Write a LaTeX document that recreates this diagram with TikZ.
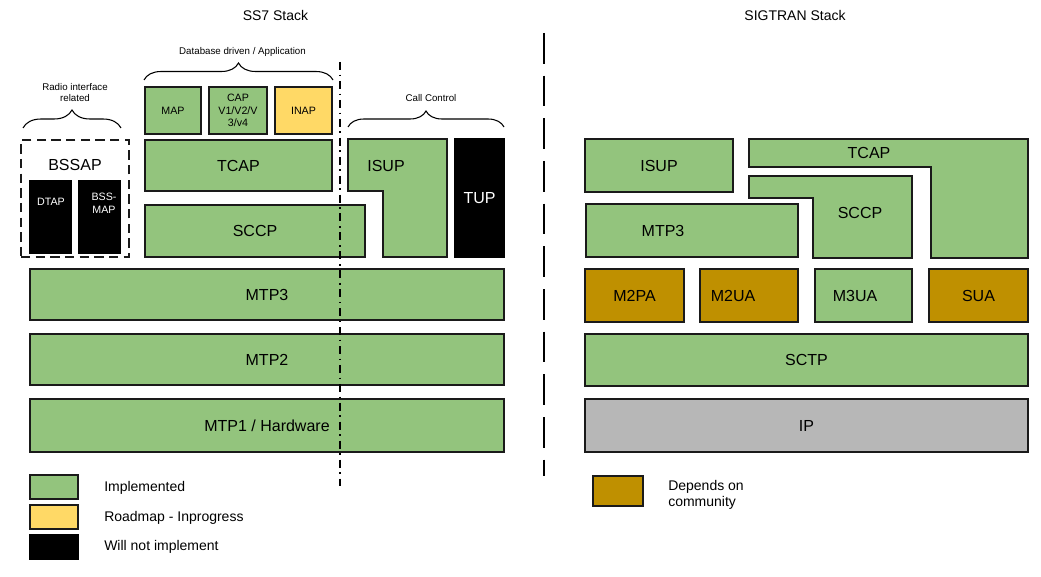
\documentclass[tikz,border=0pt]{standalone}
\usepackage{fontspec}
\setmainfont{Liberation Sans}
\usetikzlibrary{decorations.pathreplacing}

\definecolor{implgreen}{HTML}{93C47D}
\definecolor{roadyellow}{HTML}{FFD966}
\definecolor{commgold}{HTML}{BF9000}
\definecolor{ipgray}{HTML}{B7B7B7}
\definecolor{edgedark}{HTML}{1A1A1A}

\begin{document}
\begin{tikzpicture}[x=0.75pt, y=-0.75pt,
    blk/.style={draw=edgedark, line width=1.3pt, inner sep=0pt, align=center, font=\fontsize{12}{14}\selectfont},
    wh/.style 2 args={minimum width=#1*0.75pt, minimum height=#2*0.75pt},
    impl/.style={blk, fill=implgreen},
    road/.style={blk, fill=roadyellow},
    nope/.style={blk, fill=black, draw=black, text=white},
    comm/.style={blk, fill=commgold},
    ipbox/.style={blk, fill=ipgray},
    small/.style={font=\fontsize{8}{9.5}\selectfont, align=center, inner sep=0pt},
    tiny/.style={font=\fontsize{7.3}{8.8}\selectfont, align=center, inner sep=0pt},
    lgtext/.style={font=\fontsize{10.5}{12.5}\selectfont, anchor=west, align=left, inner sep=0pt},
    curly/.style={decorate, decoration={brace, amplitude=#1*0.75pt}, line width=0.8pt}]
    \useasboundingbox (0,0) rectangle (1041,577);

    % Titles
    \node[font=\fontsize{10.5}{12}\selectfont] (ss7title) at (275.5,16) {SS7 Stack};
    \node[font=\fontsize{10.5}{12}\selectfont] (sigtitle) at (795,16) {SIGTRAN Stack};

    % Separator between the stacks
    \draw[line width=2.2pt, dash pattern=on 23pt off 9pt] (544,33) -- (544,476);

    % SS7 stack: application part
    \node[tiny] (dbtext) at (242.5,52) {Database driven / Application};
    \draw[curly=17] (144,80) -- (333,80);
    \node[impl, small, wh={56}{47}] (map) at (173,110.5) {MAP};
    \node[impl, small, wh={58}{47}] (cap) at (238,110.5) {CAP\\V1/V2/V\\3/v4};
    \node[road, small, wh={57}{47}] (inap) at (303.5,110.5) {INAP};
    \node[impl, wh={187}{51}] (tcap) at (238.5,165.5) {TCAP};
    \node[impl, wh={220}{52}] (sccp) at (255,231) {SCCP};

    % SS7 stack: radio interface
    \node[tiny] (radiotext) at (75,92.5) {Radio interface\\related};
    \draw[curly=18] (23,128) -- (121,128);
    \node[blk, fill=none, line width=1.5pt, dash pattern=on 7pt off 4pt, wh={108}{117}] (bssap) at (75,198.5) {};
    \node[font=\fontsize{12}{14}\selectfont, inner sep=0pt] (bssaptext) at (75,165) {BSSAP};
    \node[nope, wh={41}{72}] (dtap) at (50.5,217) {};
    \node[small, text=white] (dtaptext) at (51,202) {DTAP};
    \node[nope, wh={41}{72}] (bssmap) at (99.5,217) {};
    \node[small, text=white] (bssmaptext) at (104,203) {BSS-\\MAP};

    % SS7 stack: call control
    \node[tiny] (calltext) at (431,98) {Call Control};
    \draw[curly=16] (348,127) -- (504,127);
    \draw[impl] (348,139) -- (447,139) -- (447,257) -- (383,257) -- (383,191) -- (348,191) -- cycle;
    \node[font=\fontsize{12}{14}\selectfont, inner sep=0pt] (isup) at (386,166) {ISUP};
    \node[nope, wh={49}{118}] (tup) at (479.5,198) {TUP};

    % SS7 stack: lower layers
    \node[impl, wh={474}{51}] (mtp3) at (267,294.5) {MTP3};
    \node[impl, wh={474}{51}] (mtp2) at (267,359.5) {MTP2};
    \node[impl, wh={474}{53}] (mtp1) at (267,425.5) {MTP1 / Hardware};

    % Dash-dot divider over the SS7 layers
    \draw[line width=1.2pt, dash pattern=on 6pt off 3.5pt on 1.2pt off 3.5pt] (340,62) -- (340,486);

    % SIGTRAN stack
    \node[impl, wh={148}{53}] (isupR) at (659,165.5) {ISUP};
    \draw[impl] (749,139) -- (1028,139) -- (1028,258) -- (931,258) -- (931,167) -- (749,167) -- cycle;
    \node[font=\fontsize{12}{14}\selectfont, inner sep=0pt] (tcapR) at (869,153) {TCAP};
    \draw[impl] (749,176) -- (912,176) -- (912,258) -- (813,258) -- (813,198) -- (749,198) -- cycle;
    \node[font=\fontsize{12}{14}\selectfont, inner sep=0pt] (sccpR) at (860,213) {SCCP};
    \node[impl, wh={212}{53}] (mtp3R) at (692,230.5) {};
    \node[font=\fontsize{12}{14}\selectfont, inner sep=0pt] (mtp3Rtext) at (663,231) {MTP3};

    \node[comm, wh={99}{53}] (m2pa) at (634.5,295.5) {M2PA};
    \node[comm, wh={98}{53}] (m2ua) at (749,295.5) {};
    \node[font=\fontsize{12}{14}\selectfont, inner sep=0pt] (m2uatext) at (733,296) {M2UA};
    \node[impl, wh={97}{53}] (m3ua) at (863.5,295.5) {};
    \node[font=\fontsize{12}{14}\selectfont, inner sep=0pt] (m3uatext) at (855,296) {M3UA};
    \node[comm, wh={99}{53}] (sua) at (978.5,295.5) {SUA};
    \node[impl, wh={443}{52}] (sctp) at (806.5,360) {SCTP};
    \node[ipbox, wh={443}{53}] (ip) at (806.5,425.5) {IP};

    % Legends
    \node[impl, wh={48}{24}] (lgimpl) at (54,487) {};
    \node[lgtext] (lgimpltext) at (104,488) {Implemented};
    \node[road, wh={48}{24}] (lgroad) at (54,517) {};
    \node[lgtext] (lgroadtext) at (104,518) {Roadmap - Inprogress};
    \node[nope, wh={48}{24}] (lgnope) at (54,547) {};
    \node[lgtext] (lgnopetext) at (104,547) {Will not implement};
    \node[comm, wh={50}{30}] (lgcomm) at (618,491) {};
    \node[lgtext] (lgcommtext) at (668,495) {Depends on\\community};
\end{tikzpicture}
\end{document}
